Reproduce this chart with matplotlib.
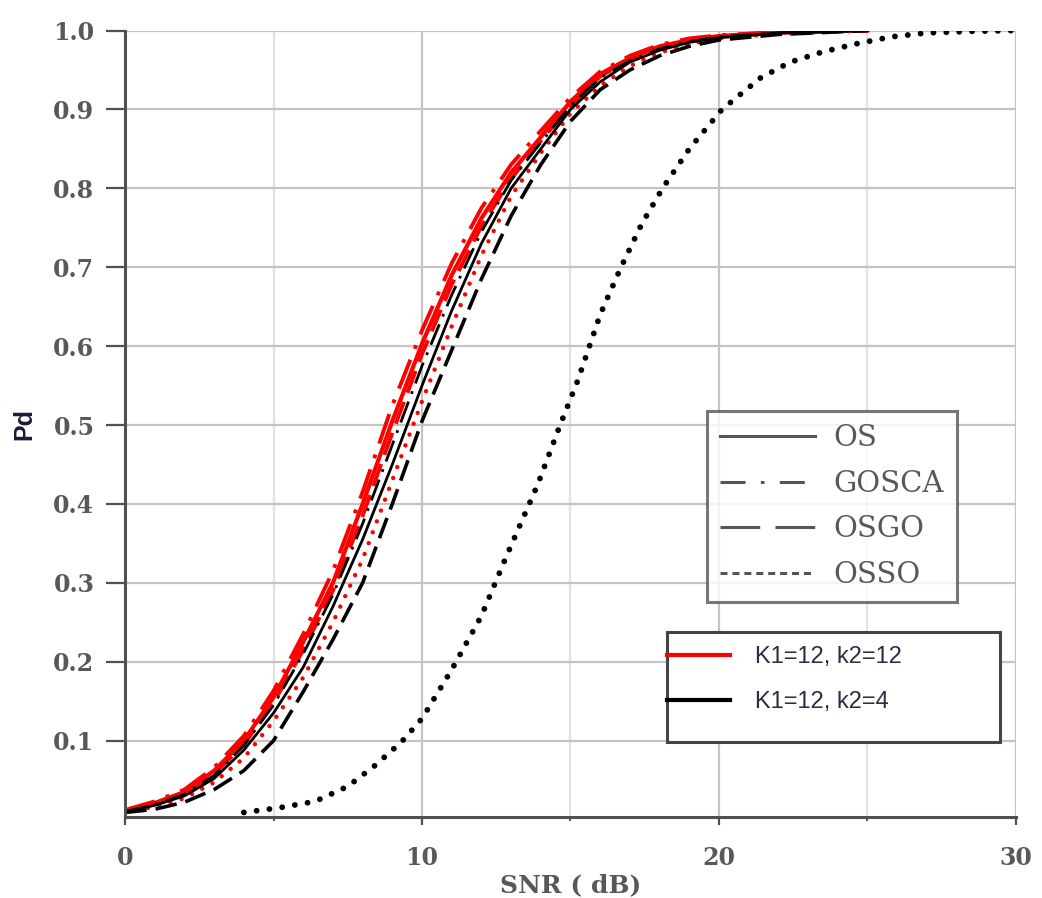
import matplotlib
matplotlib.use("Agg")
import matplotlib.pyplot as plt
from matplotlib.lines import Line2D
from matplotlib.patches import Rectangle
from matplotlib.ticker import MultipleLocator, FormatStrFormatter

# SNR grid (dB) shared by the Pd curves of the main cluster
snr = [0, 1, 2, 3, 4, 5, 6, 7, 8, 9, 10, 11, 12, 13, 14, 15, 16, 17, 18, 19, 20, 22, 25]

# K1=12, k2=12 (red)
red_os = [.011, .021, .035, .062, .100, .155, .225, .300, .400, .505, .603, .690, .762, .820,
          .865, .910, .945, .965, .980, .988, .993, .998, 1.0]
red_gosca = [.012, .023, .038, .066, .106, .163, .235, .315, .415, .525, .620, .705, .775, .830,
             .873, .915, .948, .968, .982, .990, .994, .998, 1.0]
red_osgo = [.011, .020, .033, .058, .095, .148, .215, .290, .385, .490, .590, .678, .752, .812,
            .860, .905, .942, .963, .978, .987, .992, .997, 1.0]
red_osso = [.010, .016, .027, .047, .078, .125, .180, .250, .330, .430, .530, .625, .715, .790,
            .845, .895, .930, .955, .972, .983, .990, .996, 1.0]

# K1=12, k2=4 (black)
blk_os = [.010, .018, .030, .052, .088, .135, .193, .270, .355, .450, .550, .645, .730, .800,
          .850, .900, .935, .960, .975, .985, .991, .997, 1.0]
blk_gosca = [.010, .019, .032, .056, .094, .145, .210, .285, .375, .475, .575, .665, .745, .810,
             .858, .905, .940, .962, .977, .986, .992, .997, 1.0]
blk_osgo = [.009, .013, .022, .038, .062, .100, .162, .228, .300, .400, .505, .595, .685, .765,
            .830, .885, .925, .950, .968, .980, .988, .995, 1.0]

# the OSSO curve for k2=4 sits far to the right
snr_osso4 = [4.0, 5.2, 6.4, 7.5, 8.4, 9.3, 10.0, 11.0, 12.0, 12.8, 13.9, 14.65, 15.25, 16.0,
             16.7, 17.4, 18.1, 19.0, 20.1, 21.4, 22.4, 23.5, 24.6, 25.8, 27.0, 28.5, 30.0]
blk_osso = [.009, .015, .023, .042, .068, .098, .128, .190, .258, .330, .425, .500, .557, .640,
            .700, .755, .800, .850, .900, .940, .960, .973, .983, .992, .997, .999, 1.0]

legend_names = ["OS", "GOSCA", "OSGO", "OSSO"]
case_names = ["K1=12, k2=12", "K1=12, k2=4"]

SOLID = "-"
DASHDOT = (0, (8, 3, 1, 3))
DASHED = (0, (6, 2.5))
DOTTED = (0, (0.01, 2.2))

GRID = "#c4c4c4"
AXIS = "#505050"
TEXT = "#585858"
SERIF = "DejaVu Serif"


def draw_curves(ax):
    # red group, k2=12
    ax.plot(snr, red_gosca, color="red", lw=2.8, ls=DASHDOT)
    ax.plot(snr, red_osgo, color="red", lw=2.8, ls=DASHED)
    ax.plot(snr, red_os, color="red", lw=3.0, ls=SOLID)
    ax.plot(snr, red_osso, color="red", lw=3.2, ls=(0, (0.01, 2.6)), dash_capstyle="round")
    # black group, k2=4
    ax.plot(snr, blk_gosca, color="black", lw=2.0, ls=DASHDOT)
    ax.plot(snr, blk_os, color="black", lw=2.0, ls=SOLID)
    ax.plot(snr, blk_osgo, color="black", lw=2.6, ls=DASHED)
    ax.plot(snr_osso4, blk_osso, color="black", lw=4.2, ls=DOTTED, dash_capstyle="round")


def style_axes(ax):
    ax.set_xlim(0, 30)
    ax.set_ylim(0.003, 1.0)
    ax.xaxis.set_major_locator(MultipleLocator(10))
    ax.xaxis.set_minor_locator(MultipleLocator(5))
    ax.set_yticks([i / 10 for i in range(1, 11)])
    ax.yaxis.set_major_formatter(FormatStrFormatter("%.1f"))

    ax.grid(which="major", color=GRID, lw=1.6)
    ax.grid(which="minor", axis="x", color="#e2e2e2", lw=1.6)
    ax.set_axisbelow(True)

    for side in ["top", "right"]:
        ax.spines[side].set_visible(False)
    for side in ["left", "bottom"]:
        ax.spines[side].set_color(AXIS)
        ax.spines[side].set_linewidth(2.2)

    ax.tick_params(axis="y", which="major", direction="out", length=14, width=1.6,
                   color=AXIS, pad=8)
    ax.tick_params(axis="x", which="major", direction="out", length=6, width=1.6,
                   color=AXIS, pad=15)
    ax.tick_params(axis="x", which="minor", direction="out", length=3, width=1.4, color=AXIS)
    for lab in ax.get_xticklabels() + ax.get_yticklabels():
        lab.set_family(SERIF)
        lab.set_fontsize(17)
        lab.set_color(TEXT)
        lab.set_fontweight("bold")

    ax.set_xlabel("SNR ( dB)", family=SERIF, fontsize=18, color=TEXT, fontweight="bold",
                  labelpad=2)
    ax.set_ylabel("Pd", family="Liberation Sans", fontsize=18, color="#1c1c3a",
                  fontweight="bold", labelpad=12)


def add_legends(ax):
    grey = "#555555"
    handles = [
        Line2D([], [], color=grey, lw=2.2, ls=SOLID),
        Line2D([], [], color=grey, lw=2.2, ls=(0, (8.2, 5, 1.2, 5))),
        Line2D([], [], color=grey, lw=2.2, ls=(0, (13, 5))),
        Line2D([], [], color=grey, lw=2.2, ls=(0, (2.3, 1.6))),
    ]
    leg1 = ax.legend(handles, legend_names, loc="upper left", bbox_to_anchor=(0.653, 0.516),
                     prop={"family": SERIF, "size": 21}, frameon=True,
                     fancybox=False, handlelength=3.25, handletextpad=0.65,
                     labelspacing=0.6, borderpad=0.45, borderaxespad=0)
    leg1.get_frame().set_edgecolor(grey)
    leg1.get_frame().set_linewidth(2.2)
    for t in leg1.get_texts():
        t.set_color(TEXT)
    ax.add_artist(leg1)

    # second box is wider than its content, so its frame is drawn by hand
    box = Rectangle((0.6083, 0.0954), 0.3737, 0.140, transform=ax.transAxes,
                    facecolor="white", edgecolor="#444444", lw=2.2, zorder=4, clip_on=False)
    ax.add_patch(box)
    handles2 = [
        Line2D([], [], color="red", lw=3),
        Line2D([], [], color="black", lw=3),
    ]
    leg2 = ax.legend(handles2, case_names, loc="upper left", bbox_to_anchor=(0.6083, 0.217),
                     prop={"family": "Liberation Sans", "size": 17}, frameon=False,
                     handlelength=2.65, handletextpad=1.06,
                     labelspacing=0.95, borderpad=0, borderaxespad=0)
    leg2.set_zorder(5)
    for t in leg2.get_texts():
        t.set_color("#2c2c44")


def main():
    fig = plt.figure(figsize=(10.42, 8.98), dpi=100)
    ax = fig.add_axes([0.12, 0.09, 0.855, 0.876])
    draw_curves(ax)
    style_axes(ax)
    add_legends(ax)
    fig.savefig("out.png", dpi=100, facecolor="white")
    plt.close(fig)


if __name__ == "__main__":
    main()
